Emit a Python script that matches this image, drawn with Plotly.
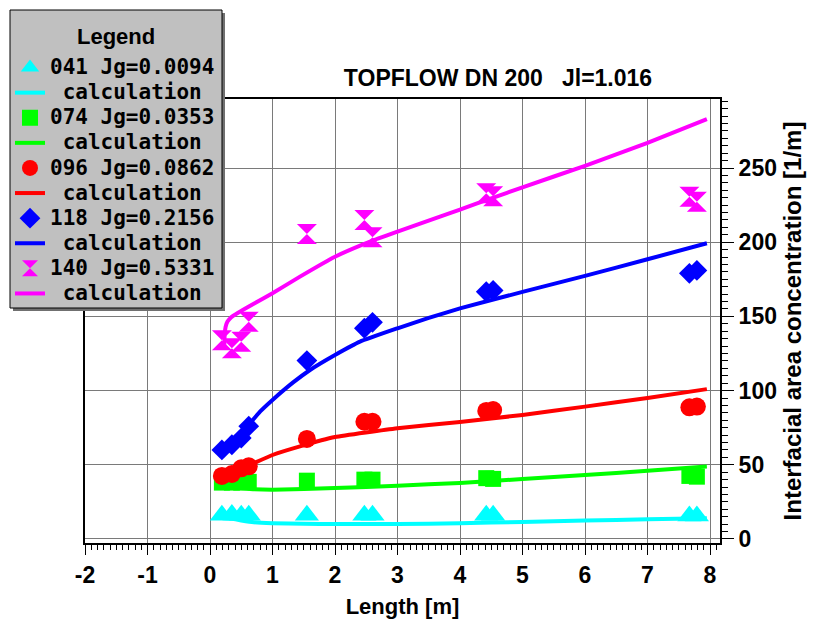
import plotly.graph_objects as go

# ---------------- data ----------------
x_exp = [0.19, 0.35, 0.5, 0.62, 1.55, 2.47, 2.6, 4.42, 4.53, 7.67, 7.79]

y_041 = [16, 16.5, 16, 16, 16, 16, 16, 16, 16, 15.5, 15.5]
y_074 = [38, 38, 38, 38.5, 39.3, 40, 40, 41, 40.5, 42.5, 42]
y_096 = [42.5, 43.8, 47.6, 49, 67.4, 79, 79, 86.3, 86.9, 88.7, 89.2]
y_118 = [60, 63.5, 68, 76, 120.2, 142, 146, 166.6, 167.5, 179, 181]
y_140 = [134, 128.5, 133, 146.4, 205.5, 215, 203.3, 233, 231, 230.7, 227.3]

calc_041_x = [0.2, 0.35, 0.5, 0.7, 1.0, 1.5, 2.0, 3.0, 4.0, 5.0, 6.0, 7.0, 7.95]
calc_041_y = [14, 13.6, 12.5, 11.3, 10.6, 10.2, 10.1, 10.1, 10.6, 11.5, 12.4, 13.3, 14]

calc_074_x = [0.2, 0.35, 0.5, 0.64, 1.0, 2.0, 3.0, 4.0, 5.0, 6.0, 7.0, 7.95]
calc_074_y = [36.5, 35.2, 34.3, 33.7, 33.2, 34.3, 35.9, 37.8, 40.4, 43.1, 46, 48.8]

calc_096_x = [0.2, 0.35, 0.5, 0.64, 1.0, 1.44, 2.0, 3.0, 4.0, 5.0, 6.0, 7.0, 7.95]
calc_096_y = [42, 44.5, 47.5, 49.9, 56.6, 62.4, 68.7, 74.7, 78.8, 83.6, 89.2, 95, 101]

calc_118_x = [0.2, 0.4, 0.62, 0.8, 1.0, 1.33, 1.6, 2.0, 2.4, 3.0, 3.5, 4.0, 5.0, 6.0, 7.0, 7.95]
calc_118_y = [59, 67, 77, 85.8, 93.7, 105.5, 113.9, 124, 133, 142, 149, 155.4, 166.5, 177.3, 188.5, 199.3]

calc_140_x = [0.23, 0.235, 0.25, 0.28, 0.34, 0.45, 0.7, 1.0, 1.44, 2.0, 2.56, 3.0, 3.68, 4.0, 4.5, 5.0, 6.0, 7.0, 7.95]
calc_140_y = [131, 138, 143, 146.5, 149.5, 152.5, 158.5, 165.6, 176.8, 190.2, 200.4, 207.1, 217.2, 222, 229.5, 237, 251.5, 267, 283]

series = [
    ("041 Jg=0.0094", y_041, calc_041_x, calc_041_y, "#00ffff", "triangle-up", 21),
    ("074 Jg=0.0353", y_074, calc_074_x, calc_074_y, "#00ff00", "square", 16),
    ("096 Jg=0.0862", y_096, calc_096_x, calc_096_y, "#ff0000", "circle", 18),
    ("118 Jg=0.2156", y_118, calc_118_x, calc_118_y, "#0000ff", "diamond", 16),
    ("140 Jg=0.5331", y_140, calc_140_x, calc_140_y, "#ff00ff", "hourglass", 20),
]

x_ticks = [-2, -1, 0, 1, 2, 3, 4, 5, 6, 7, 8]
x_ticktext = ["-2", "-1", "0", "1", "2", "3", "4", "5", "6", "7", "8"]
y_ticks = [0, 50, 100, 150, 200, 250]

# ---------------- layout geometry (pixels) ----------------
W, H = 817, 621
L, R, T, B = 85, 97, 99, 78
PW, PH = W - L - R, H - T - B


def px_x(p):
    return (p - L) / PW


def px_y(p):
    return (H - B - p) / PH


LEG = '<span style="font-size:21px">{}</span>'
FONT = "Liberation Sans, Arial"

fig = go.Figure()
for name, ye, cx, cy, col, sym, sz in series:
    fig.add_trace(go.Scatter(
        x=x_exp, y=ye, mode="markers", name=LEG.format(name),
        marker=dict(symbol=sym, size=sz, color=col, line=dict(width=0)),
    ))
    fig.add_trace(go.Scatter(
        x=cx, y=cy, mode="lines", name=LEG.format("\u00a0calculation"),
        line=dict(color=col, width=4, shape="spline", smoothing=0.4),
    ))

tickfont = dict(family=FONT, size=23, color="black", weight="bold")

fig.update_layout(
    width=W, height=H,
    margin=dict(l=L, r=R, t=T, b=B, autoexpand=False),
    paper_bgcolor="white", plot_bgcolor="white",
    title=dict(text="TOPFLOW DN 200\u00a0\u00a0\u00a0Jl=1.016", x=498 / W, xanchor="center",
               xref="container", y=1 - 78 / H, yanchor="middle", yref="container",
               font=dict(family=FONT, size=23, color="black", weight="bold")),
    xaxis=dict(
        range=[-2, 8.16], tickvals=x_ticks, ticktext=x_ticktext, ticks="outside", ticklen=10,
        tickwidth=1, tickcolor="black",
        minor=dict(dtick=0.1, ticks="outside", ticklen=5, tickcolor="black", showgrid=False),
        showgrid=True, gridcolor="#7a7a7a", gridwidth=1, zeroline=False,
        showline=True, linecolor="black", linewidth=2, mirror=True,
        tickfont=tickfont,
        title=dict(text="Length [m]", font=dict(family=FONT, size=22, color="black", weight="bold"),
                   standoff=12),
    ),
    yaxis=dict(
        side="right", range=[-2.7, 296.5], tickvals=y_ticks, ticks="outside", ticklen=12,
        tickwidth=1, tickcolor="black",
        minor=dict(dtick=5, ticks="outside", ticklen=6, tickcolor="black", showgrid=False),
        showgrid=True, gridcolor="#7a7a7a", gridwidth=1, zeroline=False,
        showline=True, linecolor="black", linewidth=2, mirror=True,
        tickfont=tickfont,
        title=dict(text="Interfacial area concentration [1/m]",
                   font=dict(family=FONT, size=24, color="black", weight="bold"),
                   standoff=8),
    ),
    legend=dict(
        xref="container", yref="container", x=10 / W, y=1 - 50 / H,
        xanchor="left", yanchor="top",
        bgcolor="rgba(0,0,0,0)", borderwidth=0,
        font=dict(family="DejaVu Sans Mono", size=17, color="black", weight="bold"),
        itemwidth=30, tracegroupgap=0,
    ),
    shapes=[
        dict(type="rect", xref="paper", yref="paper", layer="above",
             x0=px_x(13), x1=px_x(225), y0=px_y(311), y1=px_y(13),
             fillcolor="#707070", line=dict(width=0)),
        dict(type="rect", xref="paper", yref="paper", layer="above",
             x0=px_x(10), x1=px_x(222), y0=px_y(308), y1=px_y(10),
             fillcolor="#c0c0c0", line=dict(color="black", width=1)),
    ],
    annotations=[
        dict(text="Legend", xref="paper", yref="paper", x=px_x(116), y=px_y(36),
             xanchor="center", yanchor="middle", showarrow=False,
             font=dict(family=FONT, size=22, color="black", weight="bold")),
    ],
)

fig.write_html("out.html")
